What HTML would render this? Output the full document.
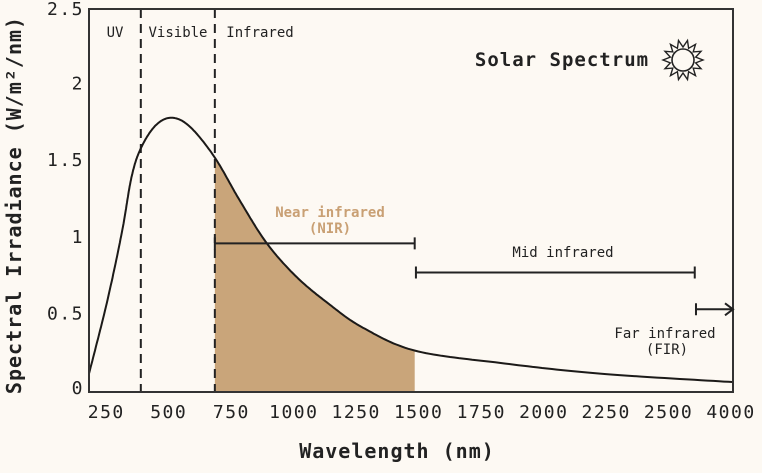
<!DOCTYPE html>
<html><head><meta charset="utf-8"><style>
html,body{margin:0;padding:0;background:#fdf9f3;}
svg{display:block;font-family:"DejaVu Sans Mono","Liberation Mono",monospace;}
</style></head><body>
<svg id="chart" width="762" height="473" viewBox="0 0 762 473" xmlns="http://www.w3.org/2000/svg">
<rect x="0" y="0" width="762" height="473" fill="#fdf9f3"/>
<g id="plot"></g>
</svg>
<script>
const wavelengths = [190, 262, 323, 362, 400, 460, 526, 600, 700, 801, 911, 1032, 1166, 1300, 1511, 1855, 2261, 2796];
const irradiance = [0.12, 0.58, 1.04, 1.40, 1.59, 1.74, 1.79, 1.73, 1.53, 1.25, 0.97, 0.75, 0.57, 0.42, 0.27, 0.19, 0.12, 0.065];
const xTickLabels = ["250","500","750","1000","1250","1500","1750","2000","2250","2500","4000"];
const xTickValues = [260, 513, 767, 1020, 1273, 1526, 1780, 2033, 2286, 2539, 2792];
const yTickValues = [0, 0.5, 1, 1.5, 2, 2.5];
const yTickLabels = ["0","0.5","1","1.5","2","2.5"];
const regionBounds = [400, 700];
const nirRange = [700, 1510];
const midRange = [1515, 2645];
const firStart = 2650;

const X0=89, X1=733, Y0=392, Y1=9, D0=190, D1=2800, V1=2.5;
const sx = v => X0 + (v - D0) * (X1 - X0) / (D1 - D0);
const sy = v => Y0 - v * (Y0 - Y1) / V1;
const NS="http://www.w3.org/2000/svg";
const g=document.getElementById('plot');
function mk(tag, attrs, text){const e=document.createElementNS(NS,tag);for(const k in attrs)e.setAttribute(k,attrs[k]);if(text!==undefined)e.textContent=text;g.appendChild(e);return e;}

const pts = wavelengths.map((w,i)=>[sx(w), sy(irradiance[i])]);
function sample(){
  const out=[];
  for(let i=0;i<pts.length-1;i++){
    const p0=pts[Math.max(0,i-1)],p1=pts[i],p2=pts[i+1],p3=pts[Math.min(pts.length-1,i+2)];
    for(let t=0;t<1;t+=0.05){
      const t2=t*t,t3=t2*t;
      const f=(a,b,c,d)=>0.5*((2*b)+(-a+c)*t+(2*a-5*b+4*c-d)*t2+(-a+3*b-3*c+d)*t3);
      out.push([f(p0[0],p1[0],p2[0],p3[0]), f(p0[1],p1[1],p2[1],p3[1])]);
    }
  }
  out.push(pts[pts.length-1]);
  return out;
}
const curve=sample();
const xa=sx(nirRange[0]), xb=sx(nirRange[1]);
const seg=curve.filter(p=>p[0]>=xa&&p[0]<=xb);
function yAt(x){for(let i=0;i<curve.length-1;i++){if(curve[i][0]<=x&&curve[i+1][0]>=x){const t=(x-curve[i][0])/(curve[i+1][0]-curve[i][0]);return curve[i][1]+t*(curve[i+1][1]-curve[i][1]);}}return Y0;}
let ad=`M${xa},${Y0} L${xa},${yAt(xa)} `+seg.map(p=>`L${p[0].toFixed(1)},${p[1].toFixed(1)}`).join(' ')+` L${xb},${yAt(xb)} L${xb},${Y0} Z`;
const area=mk('path',{d:ad,fill:'#c9a57a'});



regionBounds.forEach((b,i)=>{
  const l=mk('line',{x1:sx(b),x2:sx(b),y1:Y1,y2:Y0,stroke:'#222',"stroke-width":2,"stroke-dasharray":"9,6"});
  
  
});

const line=mk('path',{d:'M'+curve.map(p=>p[0].toFixed(1)+','+p[1].toFixed(1)).join(' L'),fill:'none',stroke:'#1c1a18',"stroke-width":2});



const box=mk('path',{d:`M${X0},${Y1} L${X1},${Y1} L${X1},${Y0} L${X0},${Y0} Z`,fill:'none',stroke:'#333',"stroke-width":2});



xTickValues.forEach((v,i)=>{
  const t=mk('text',{x:sx(v),y:418,"text-anchor":"middle","font-size":18,"letter-spacing":1.5,fill:'#222'},xTickLabels[i]);
  
  
});
yTickValues.forEach((v,i)=>{
  const t=mk('text',{x:84,y:sy(v)+6-(v===0?4:(v<2.5?2:0)),"text-anchor":"end","font-size":18,"letter-spacing":1.5,fill:'#222'},yTickLabels[i]);
  
  
});

function range(a,b,v,name,arrow){
  const y=sy(v);
  const grp=mk('path',{d:`M${a},${y} L${b},${y} M${a},${y-6} L${a},${y+6}`+(arrow?` M${b-8},${y-6} L${b},${y} L${b-8},${y+6}`:` M${b},${y-6} L${b},${y} L${b},${y+6}`),fill:'none',stroke:'#222',"stroke-width":2});
  
  
}
range(sx(nirRange[0]),sx(nirRange[1]),0.97,'nir-range-bar',false);
range(sx(midRange[0]),sx(midRange[1]),0.78,'mid-infrared-range-bar',false);
range(sx(firStart),X1,0.54,'far-infrared-range-arrow',true);

function label(x,y,txt,name,opts){
  const t=mk('text',Object.assign({x:x,y:y,"text-anchor":"middle","font-size":14,fill:'#222'},opts||{}),txt);
  
  
  return t;
}
label(115,37,'UV','uv-label');
label(178,37,'Visible','visible-label');
label(260,37,'Infrared','infrared-label');
label(330,217,'Near infrared','nir-label',{fill:'#c9a074',"font-weight":"bold"});
label(330,233,'(NIR)','nir-abbrev-label',{fill:'#c9a074',"font-weight":"bold"});
label(563,257,'Mid infrared','mid-infrared-label');
label(665,338,'Far infrared','far-infrared-label');
label(667,354,'(FIR)','fir-abbrev-label');
label(562,66,'Solar Spectrum','chart-title',{"font-size":19,"font-weight":"bold","letter-spacing":1});
label(397,458,'Wavelength (nm)','x-axis-title',{"font-size":20,"font-weight":"bold","letter-spacing":1});
label(0,0,'Spectral Irradiance (W/m²/nm)','y-axis-title',{"font-size":20,"font-weight":"bold","letter-spacing":1,transform:'translate(21,205) rotate(-90)'});

let sp='';const cx=683,cy=60,n=14;
for(let i=0;i<n*2;i++){const r=i%2?13:20;const a=i*Math.PI/n;sp+=(i?'L':'M')+(cx+r*Math.cos(a)).toFixed(1)+','+(cy+r*Math.sin(a)).toFixed(1);}
const sunR=mk('path',{d:sp+'Z',fill:'none',stroke:'#222',"stroke-width":1.4});


const sunC=mk('circle',{cx:cx,cy:cy,r:11,fill:'none',stroke:'#222',"stroke-width":1.6});


</script>
</body></html>
